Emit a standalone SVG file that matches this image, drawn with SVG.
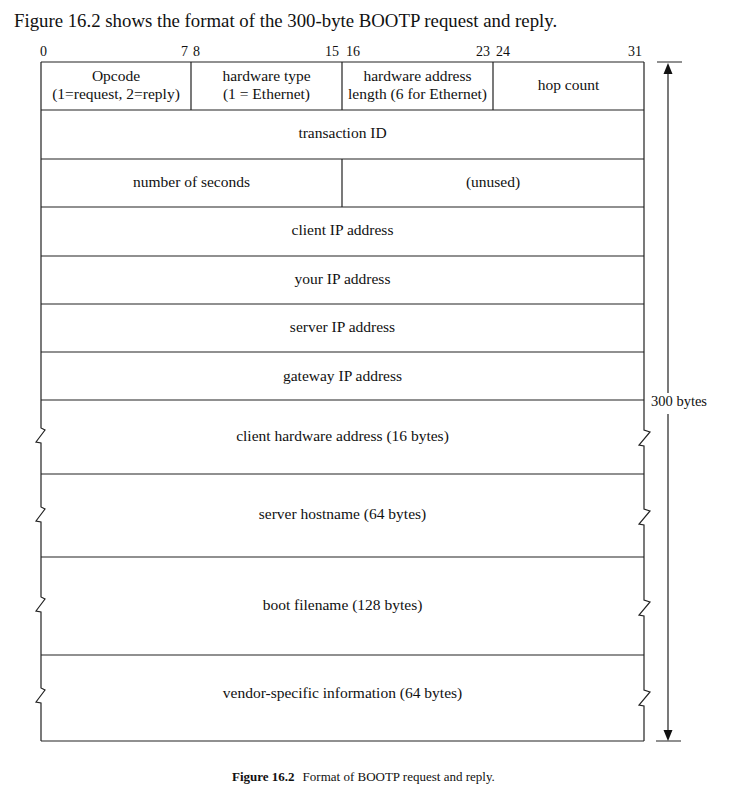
<svg xmlns="http://www.w3.org/2000/svg" width="730" height="795" viewBox="0 0 730 795">
<style>
  text { font-family: "Liberation Serif", "DejaVu Serif", serif; fill: #111; }
  .h { font-size: 18.8px; }
  .bit { font-size: 14px; }
  .cell { font-size: 15.5px; text-anchor: middle; }
  .ln { stroke: #222; stroke-width: 1.2; fill: none; }
  .head { fill: #111; stroke: none; }
  .cap { font-size: 13px; }
</style>
<rect width="730" height="795" fill="#fff"/>
<text class="h" x="14" y="27">Figure 16.2 shows the format of the 300-byte BOOTP request and reply.</text>
<g id="bits" class="bit">
  <text x="40" y="56">0</text>
  <text x="188" y="56" text-anchor="end">7</text>
  <text x="193" y="56">8</text>
  <text x="339" y="56" text-anchor="end">15</text>
  <text x="346" y="56">16</text>
  <text x="490" y="56" text-anchor="end">23</text>
  <text x="496" y="56">24</text>
  <text x="642" y="56" text-anchor="end">31</text>
</g>
<g id="frame">
  <path class="ln" d="M41,62 V428 L45,430 L36,442 L41,443 V507 L45,509 L36,521 L41,522 V597 L45,599 L36,611 L41,612 V688 L45,690 L36,702 L41,703 V741"/>
  <path class="ln" d="M644,62 V430 L650,432 L639,445 L644,446 V509 L650,511 L639,524 L644,525 V600 L650,602 L639,615 L644,616 V690 L650,692 L639,705 L644,706 V741"/>
  <path class="ln" d="M41,62 H644 M41,741 H644"/>
</g>
<g id="row1">
  <path class="ln" d="M41,110 H644 M191,62 V110 M342,62 V110 M493,62 V110"/>
  <text class="cell" x="116" y="81">Opcode</text>
  <text class="cell" x="116" y="99">(1=request, 2=reply)</text>
  <text class="cell" x="266.5" y="81">hardware type</text>
  <text class="cell" x="266.5" y="99">(1 = Ethernet)</text>
  <text class="cell" x="417.5" y="81">hardware address</text>
  <text class="cell" x="417.5" y="99">length (6 for Ethernet)</text>
  <text class="cell" x="568.5" y="90">hop count</text>
</g>
<g id="row2">
  <path class="ln" d="M41,159 H644"/>
  <text class="cell" x="342.5" y="138">transaction ID</text>
</g>
<g id="row3">
  <path class="ln" d="M41,207 H644 M342,159 V207"/>
  <text class="cell" x="191.5" y="187">number of seconds</text>
  <text class="cell" x="493" y="187">(unused)</text>
</g>
<g id="row4">
  <path class="ln" d="M41,256 H644"/>
  <text class="cell" x="342.5" y="235">client IP address</text>
</g>
<g id="row5">
  <path class="ln" d="M41,304 H644"/>
  <text class="cell" x="342.5" y="284">your IP address</text>
</g>
<g id="row6">
  <path class="ln" d="M41,352 H644"/>
  <text class="cell" x="342.5" y="332">server IP address</text>
</g>
<g id="row7">
  <path class="ln" d="M41,400 H644"/>
  <text class="cell" x="342.5" y="381">gateway IP address</text>
</g>
<g id="row8">
  <path class="ln" d="M41,474 H644"/>
  <text class="cell" x="342.5" y="441">client hardware address (16 bytes)</text>
</g>
<g id="row9">
  <path class="ln" d="M41,557 H644"/>
  <text class="cell" x="342.5" y="519">server hostname (64 bytes)</text>
</g>
<g id="row10">
  <path class="ln" d="M41,655 H644"/>
  <text class="cell" x="342.5" y="610">boot filename (128 bytes)</text>
</g>
<g id="row11">
  <text class="cell" x="342.5" y="698">vendor-specific information (64 bytes)</text>
</g>
<g id="connectors">
  <path class="ln" d="M657,62 H682 M656,741 H681"/>
  <path class="ln" d="M668,393 V70 M668,414 V734"/>
  <polygon class="head" points="668,63 672.5,74 663.5,74"/>
  <polygon class="head" points="668,741 672.5,730 663.5,730"/>
  <text x="651" y="406" style="font-size:14.5px">300 bytes</text>
</g>
<text class="cap" x="232" y="781"><tspan font-weight="bold">Figure 16.2</tspan><tspan dx="8">Format of BOOTP request and reply.</tspan></text>
</svg>
